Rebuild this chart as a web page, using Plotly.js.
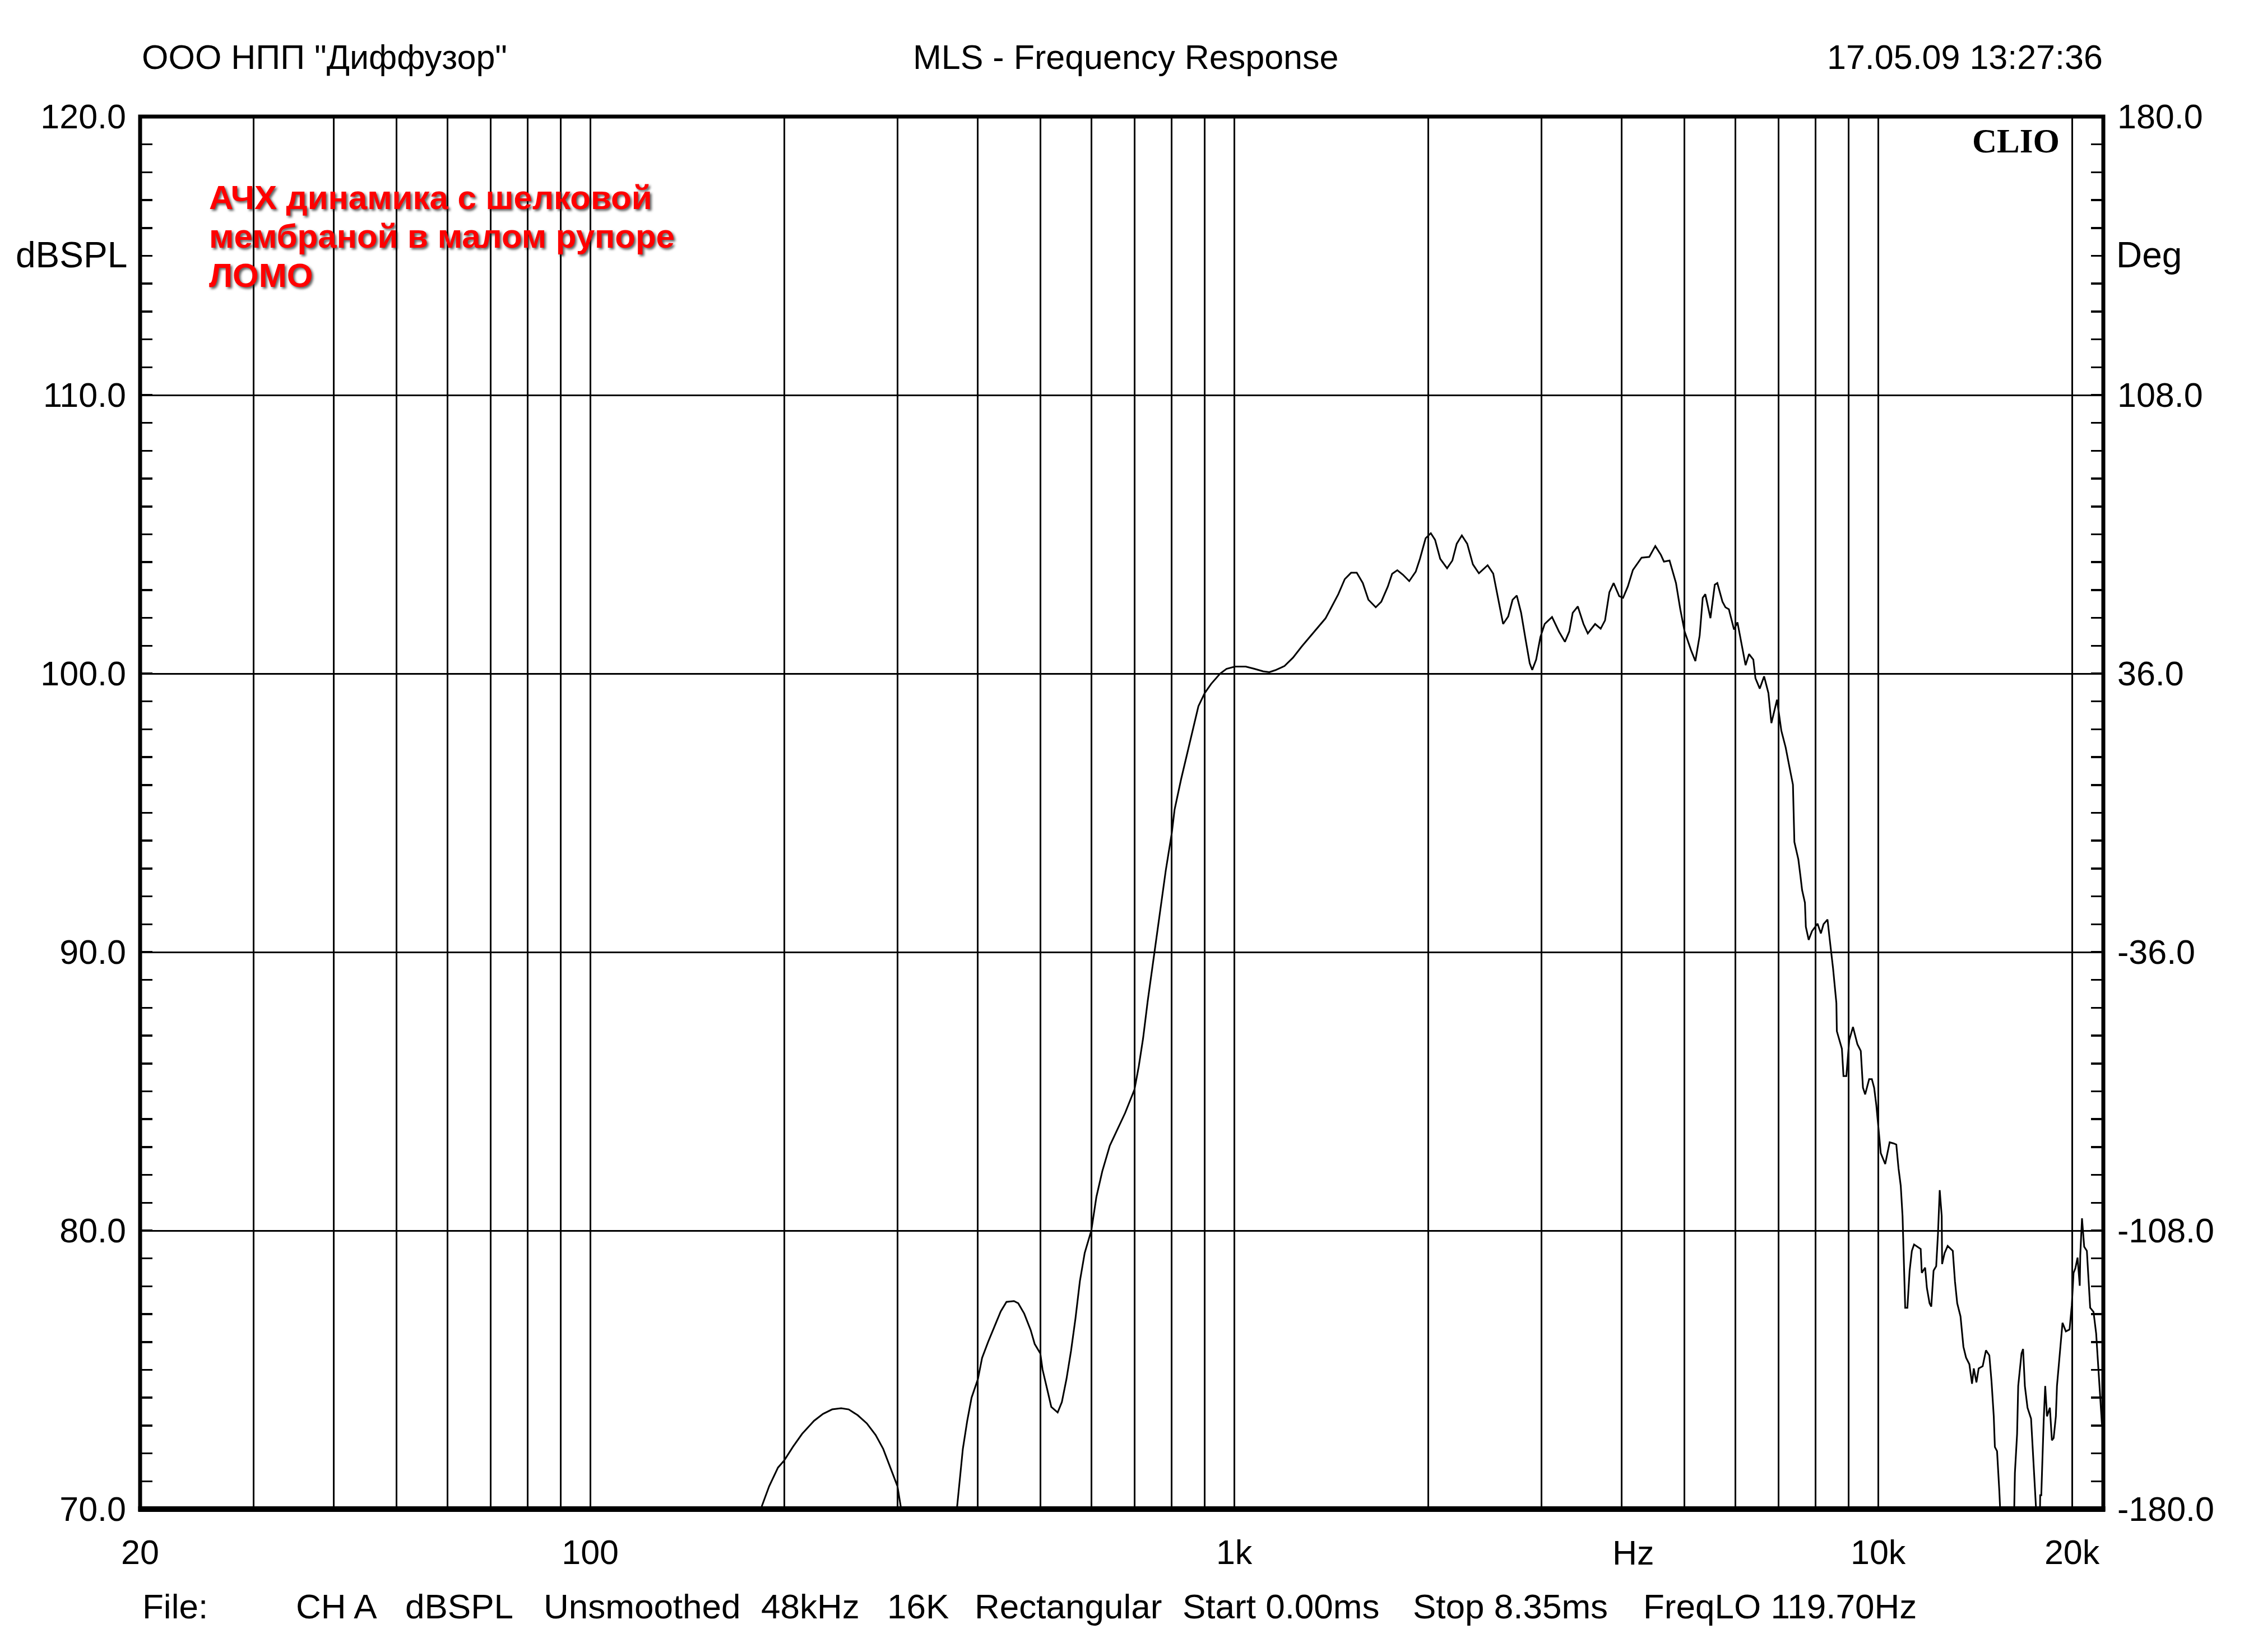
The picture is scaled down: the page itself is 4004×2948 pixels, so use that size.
<!DOCTYPE html>
<html>
<head>
<meta charset="utf-8">
<script src="https://cdn.plot.ly/plotly-3.0.1.min.js"></script>
<style>html,body{margin:0;padding:0;background:#fff;}#chart{width:4004px;height:2948px;}</style>
</head>
<body>
<div id="chart"></div>
<script>
// ---- data ----
const freqHz = [
  184, 189.6, 195.7, 200, 206.5, 213.3, 222.6, 229.9, 237.5, 245.3, 252.0, 260.3, 268.8, 277.5, 285.1, 292.9, 300, 302.4, 304,
  null,
  371, 375, 379, 385, 391, 400, 406, 415, 424, 434, 443, 455, 462, 472, 483, 490, 500, 504, 512, 520, 532, 540, 549, 558, 567,
  576, 586, 600, 611, 624, 641, 659, 677, 700, 711, 722, 734, 746, 758, 770, 783, 800, 808, 827, 851, 867, 880, 900, 921, 951,
  973, 1003, 1042, 1075, 1109, 1134, 1158, 1197, 1234, 1273, 1333, 1386, 1418, 1451, 1485, 1519, 1550, 1584, 1616, 1659, 1692,
  1732, 1759, 1792, 1828, 1870, 1914, 1943, 1983, 2020, 2051, 2089, 2141, 2182, 2216, 2257, 2301, 2348, 2399, 2475, 2525, 2564,
  2616, 2664, 2706, 2747, 2790, 2834, 2877, 2903, 2944, 2989, 3035, 3116, 3194, 3263, 3314, 3355, 3417, 3487, 3541, 3635, 3708,
  3766, 3825, 3884, 3962, 4017, 4085, 4161, 4292, 4412, 4508, 4599, 4649, 4743, 4854, 4929, 5006, 5122, 5202, 5283, 5341, 5390,
  5490, 5576, 5627, 5731, 5793, 5864, 5973, 6047, 6131, 6225, 6302, 6400, 6449, 6549, 6651, 6755, 6827, 6966, 7074, 7184, 7296,
  7374, 7412, 7518, 7577, 7619, 7697, 7722, 7801, 7894, 8052, 8149, 8226, 8344, 8412, 8511, 8613, 8627, 8785, 8834, 8926, 9019,
  9140, 9286, 9398, 9472, 9547, 9684, 9778, 9858, 9936, 10016, 10095, 10256, 10421, 10571, 10671, 10757, 10842, 10912, 10973,
  11016, 11103, 11192, 11281, 11371, 11643, 11689, 11830, 11904, 12019, 12092, 12192, 12307, 12386, 12463, 12553, 12570, 12682,
  12823, 13059, 13162, 13268, 13425, 13565, 13694, 13857, 13989, 14078, 14212, 14326, 14532, 14704, 14882, 15000, 15120, 15180,
  15299, 15422, 15470,
  null,
  16267, 16307, 16436, 16501, 16698, 16791, 16899, 17060, 17277, 17416, 17553, 17590,
  null,
  17840, 17850, 17920, 18074, 18174, 18291, 18480, 18613, 18730, 18880, 18954, 19103, 19182, 19333, 19566, 19828, 19984, 20113,
  20240, 20402, 20563, 20600, 20729, 20892, 21093, 21200, 21344, 21601, 21806, 21947, 22121, 22264
];
const splDb = [
  70.0, 70.82, 71.49, 71.74, 72.24, 72.70, 73.17, 73.42, 73.58, 73.62, 73.58, 73.37, 73.08, 72.66, 72.16, 71.46, 70.82, 70.32, 70.0,
  null,
  70.0, 71.16, 72.16, 73.17, 74.00, 74.67, 75.43, 76.01, 76.52, 77.10, 77.44, 77.47, 77.39, 77.02, 76.43, 75.93, 75.59, 75.01, 74.34, 73.67, 73.47, 73.84, 74.67, 75.68, 76.85,
  78.19, 79.20, 80.0, 81.21, 82.13, 83.05, 83.63, 84.22, 85.06, 85.90, 86.90, 88.24, 89.41, 90.59, 91.76, 92.93, 94.27, 95.11, 96.2, 97.42, 98.16, 98.83, 99.30, 99.63, 100.0,
  100.17, 100.25, 100.25, 100.17, 100.08, 100.05, 100.12, 100.27, 100.57, 100.97, 101.51, 101.98, 102.41, 102.85, 103.39, 103.62, 103.62, 103.25, 102.65, 102.38, 102.58,
  103.12, 103.58, 103.71, 103.55, 103.32, 103.66, 104.12, 104.86, 105.04, 104.80, 104.12, 103.78, 104.06, 104.66, 104.96, 104.66, 103.92, 103.60, 103.89, 103.59, 102.78,
  101.78, 102.05, 102.65, 102.80, 102.18, 101.24, 100.37, 100.13, 100.50, 101.31, 101.78, 102.03, 101.51, 101.14, 101.51, 102.18, 102.41, 101.78, 101.44, 101.78, 101.61,
  101.91, 102.92, 103.25, 102.78, 102.72, 103.12, 103.72, 104.16, 104.19, 104.58, 104.26, 104.02, 104.06, 103.25, 102.31, 101.51, 100.84, 100.45, 101.37, 102.72, 102.85,
  101.99, 103.19, 103.25, 102.58, 102.38, 102.31, 101.58, 101.84, 101.11, 100.30, 100.70, 100.50, 99.83, 99.46, 99.90, 99.30, 98.22, 99.06, 97.95, 97.35, 96.55,
  96.01, 93.95, 93.33, 92.70, 92.23, 91.77, 90.91, 90.44, 90.75, 91.02, 90.67, 91.0, 91.17, 90.44, 89.42, 88.17, 87.16, 86.53, 85.55, 85.55, 86.84,
  87.31, 86.69, 86.45, 85.13, 84.89, 85.44, 85.44, 85.13, 84.50, 83.56, 82.78, 82.39, 83.17, 83.13, 83.09, 82.23, 81.61, 80.52, 78.48,
  77.23, 77.23, 78.56, 79.27, 79.50, 79.34, 78.48, 78.67, 77.94, 77.39, 77.27, 78.56, 78.72, 79.89, 81.45, 80.52, 78.80, 79.19,
  79.45, 79.27, 78.17, 77.39, 76.92, 75.83, 75.44, 75.20, 74.50, 75.05, 74.55, 75.05, 75.13, 75.70, 75.52, 74.58, 73.33, 72.23,
  72.08, 70.67, 70.0,
  null,
  70.0, 71.30, 72.70, 74.42, 75.59, 75.75, 74.42, 73.64, 73.25, 71.77, 70.52, 70.0,
  null,
  70.0, 70.5, 70.5, 73.17, 74.42, 73.33, 73.64, 72.47, 72.55, 73.33, 74.42, 75.36, 75.75, 76.69, 76.38, 76.45, 77.31, 78.48,
  78.64, 79.03, 78.02, 79.11, 80.44, 79.42, 79.27, 78.33, 77.23, 77.08, 76.30, 75.28, 74.11, 73.02
];

const xGridHz = [20,30,40,50,60,70,80,90,100,200,300,400,500,600,700,800,900,1000,2000,3000,4000,5000,6000,7000,8000,9000,10000,20000];
const xLabelMap = {20:'20', 100:'100', 1000:'1k', 10000:'10k', 20000:'20k'};
const xTickText = xGridHz.map(v => xLabelMap[v] || '');
const yLeftTicks = [70, 80, 90, 100, 110, 120];
const yLeftText = ['70.0', '80.0', '90.0', '100.0', '110.0', '120.0'];
const yRightTicks = [-180, -108, -36, 36, 108, 180];
const yRightText = ['-180.0', '-108.0', '-36.0', '36.0', '108.0', '180.0'];

const headerLeft = 'ООО НПП "Диффузор"';
const headerCenter = 'MLS - Frequency Response';
const headerRight = '17.05.09 13:27:36';
const noteLines = ['АЧХ динамика с шелковой', 'мембраной в малом рупоре', 'ЛОМО'];
const footerItems = ['File:', 'CH A', 'dBSPL', 'Unsmoothed', '48kHz', '16K', 'Rectangular', 'Start 0.00ms', 'Stop 8.35ms', 'FreqLO 119.70Hz'];

// ---- layout geometry ----
const W = 4004, H = 2948;
const L = 250, R = 251, T = 208, B = 255;
const PW = W - L - R, PH = H - T - B;
const px = X => (X - L) / PW;
const py = Y => (H - B - Y) / PH;

const SANS = 'Liberation Sans, Arial, sans-serif';
const fontN = {family: SANS, size: 62, color: '#000'};
const fontH = {family: SANS, size: 61, color: '#000'};
const fontT = {family: SANS, size: 61, color: '#000'};

const ann = [];
function txt(text, X, Y, xanchor, font) {
  ann.push({text: text, xref: 'paper', yref: 'paper', x: px(X), y: py(Y), xanchor: xanchor, yanchor: 'middle',
            showarrow: false, font: font || fontN, borderpad: 0});
}
txt(headerLeft, 252, 102, 'left', fontH);
txt(headerCenter, 1628, 102, 'left', fontH);
txt(headerRight, 3753, 102, 'right', fontH);
txt('dBSPL', 228, 455, 'right', {family: SANS, size: 64, color: '#000'});
txt('Deg', 3775, 455, 'left', {family: SANS, size: 64, color: '#000'});
txt('Hz', 2914, 2771, 'center', fontT);
const footerX = [253, 527, 722, 969, 1357, 1582, 1738, 2109, 2520, 2931];
footerItems.forEach((t, i) => txt(t, footerX[i], 2866, 'left'));
const redFont = {family: SANS, size: 60, color: '#ff0000', weight: 'bold', shadow: '3px 3px 4px rgba(40,40,40,0.75)'};
const noteY = [352, 421, 491];
noteLines.forEach((t, i) => txt(t, 372, noteY[i], 'left', redFont));
txt('CLIO', 3676, 252, 'right', {family: 'Liberation Serif, Times New Roman, serif', size: 61, color: '#000', weight: 'bold'});

const traces = [
  {x: freqHz, y: splDb, type: 'scatter', mode: 'lines', line: {color: '#000', width: 3}, connectgaps: false,
   hoverinfo: 'skip', showlegend: false},
  {x: [null], y: [null], yaxis: 'y2', type: 'scatter', mode: 'lines', hoverinfo: 'skip', showlegend: false}
];

const layout = {
  width: W, height: H,
  margin: {l: L, r: R, t: T, b: B, pad: 0, autoexpand: false},
  paper_bgcolor: '#fff', plot_bgcolor: '#fff',
  showlegend: false,
  font: fontN,
  xaxis: {
    type: 'log', range: [Math.log10(20), 4.3497], tickmode: 'array', tickvals: xGridHz, ticktext: xTickText,
    showgrid: true, gridcolor: '#000', gridwidth: 3, zeroline: false, showline: false, ticks: '',
    tickfont: fontT, ticklabelstandoff: 36, fixedrange: true
  },
  yaxis: {
    range: [70, 120], tickmode: 'array', tickvals: yLeftTicks, ticktext: yLeftText,
    showgrid: true, gridcolor: '#000', gridwidth: 3, zeroline: false, showline: false,
    ticks: 'inside', ticklen: 22, tickwidth: 3.5, tickcolor: '#000',
    minor: {dtick: 1, tick0: 70, ticks: 'inside', ticklen: 22, tickwidth: 3.5, tickcolor: '#000', showgrid: false},
    tickfont: fontT, ticklabelstandoff: 24, fixedrange: true
  },
  yaxis2: {
    overlaying: 'y', side: 'right', range: [-180, 180], tickmode: 'array', tickvals: yRightTicks, ticktext: yRightText,
    showgrid: false, zeroline: false, showline: false,
    ticks: 'inside', ticklen: 22, tickwidth: 3.5, tickcolor: '#000',
    minor: {dtick: 7.2, tick0: -180, ticks: 'inside', ticklen: 22, tickwidth: 3.5, tickcolor: '#000', showgrid: false},
    tickfont: fontT, ticklabelstandoff: 24, fixedrange: true
  },
  shapes: [
    {type: 'rect', xref: 'paper', yref: 'paper', x0: 0, x1: 1, y0: 0, y1: 1, line: {color: '#000', width: 7}, layer: 'above'},
    {type: 'line', xref: 'paper', yref: 'paper', x0: -0.001, x1: 1.001, y0: 0, y1: 0, line: {color: '#000', width: 10}, layer: 'above'}
  ],
  annotations: ann
};

Plotly.newPlot('chart', traces, layout, {displayModeBar: false, staticPlot: true});
</script>
</body>
</html>
